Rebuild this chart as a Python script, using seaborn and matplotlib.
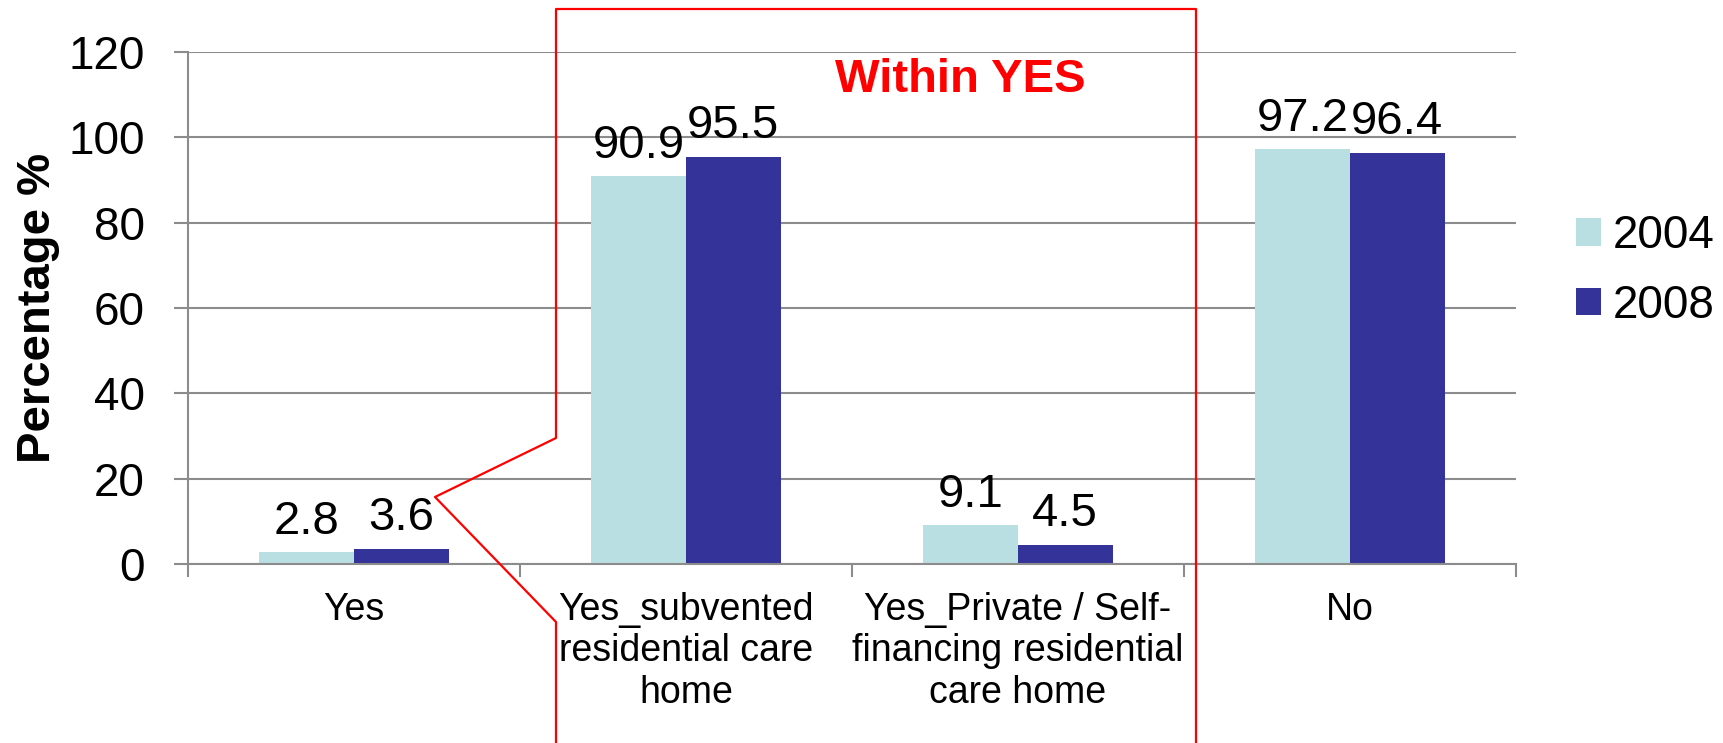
import pandas as pd
import matplotlib.pyplot as plt
import seaborn as sns
from matplotlib.lines import Line2D

# dati
categories = ["Yes",
              "Yes_subvented\nresidential care\nhome",
              "Yes_Private / Self-\nfinancing residential\ncare home",
              "No"]
years = ["2004", "2008"]
values_2004 = [2.8, 90.9, 9.1, 97.2]
values_2008 = [3.6, 95.5, 4.5, 96.4]
y_ticks = [0, 20, 40, 60, 80, 100, 120]

df = pd.DataFrame({
    "category": categories * 2,
    "year": [years[0]] * len(categories) + [years[1]] * len(categories),
    "value": values_2004 + values_2008,
})

sns.set_theme(style="white")
plt.rcParams['font.family'] = ['Liberation Sans', 'DejaVu Sans']
plt.rcParams['text.color'] = 'black'
plt.rcParams['axes.labelcolor'] = 'black'

W, H = 1723, 743
fig = plt.figure(figsize=(W / 100, H / 100), dpi=100)
ax = fig.add_axes([188 / W, 1 - 564 / H, (1516 - 188) / W, (564 - 52) / H])

palette = {"2004": "#BADFE2", "2008": "#333399"}
sns.barplot(data=df, x="category", y="value", hue="year", order=categories,
            hue_order=years, palette=palette, width=0.57, saturation=1,
            linewidth=0, ax=ax)

for cont in ax.containers:
    ax.bar_label(cont, fmt='%.1f', padding=6, fontsize=34, color='black')

grid_col = '#8C8C8C'
ax.set_ylim(0, 120)
ax.set_xlim(-0.5, len(categories) - 0.5)
ax.set_yticks(y_ticks)
ax.yaxis.grid(True, color=grid_col, linewidth=1.5)
ax.set_axisbelow(True)
ax.tick_params(axis='y', labelsize=33, length=10, width=1.5, color=grid_col,
               labelcolor='black', direction='out', pad=21, left=True)

# tick principali al centro (solo etichette), tick minori ai bordi delle categorie
ax.set_xticks(range(len(categories)))
ax.set_xticklabels(categories, fontsize=27, linespacing=1.2)
ax.set_xticks([i - 0.5 for i in range(len(categories) + 1)], minor=True)
ax.tick_params(axis='x', which='major', length=0, pad=20, labelcolor='black')
ax.tick_params(axis='x', which='minor', length=9, width=1.5, color=grid_col,
               direction='out', bottom=True)

ax.set_xlabel('')
ax.set_ylabel('')
fig.text(38 / W, 1 - 308 / H, 'Percentage %', fontsize=34, fontweight='bold',
         rotation=90, ha='center', va='center')

for s in ['top', 'right']:
    ax.spines[s].set_visible(False)
for s in ['left', 'bottom']:
    ax.spines[s].set_color(grid_col)
    ax.spines[s].set_linewidth(1.5)

ax.legend(loc='center left', bbox_to_anchor=(1576 / W, 1 - 271 / H),
          bbox_transform=fig.transFigure, frameon=False, fontsize=33,
          handlelength=0.55, handleheight=0.55, handletextpad=0.25,
          labelspacing=0.56, borderpad=0, borderaxespad=0, title=None)

# riquadro rosso "Within YES"
px = [556, 556, 435, 556, 556, 1196, 1196]
py = [760, 622, 497, 438, 9, 9, 760]
fig.add_artist(Line2D([x / W for x in px], [1 - y / H for y in py],
                      transform=fig.transFigure, color='red', linewidth=1.6,
                      zorder=10))
fig.text(960 / W, 1 - 80 / H, 'Within YES', color='red', fontsize=34,
         fontweight='bold', ha='center', va='center')

fig.savefig('out.png', dpi=100)
